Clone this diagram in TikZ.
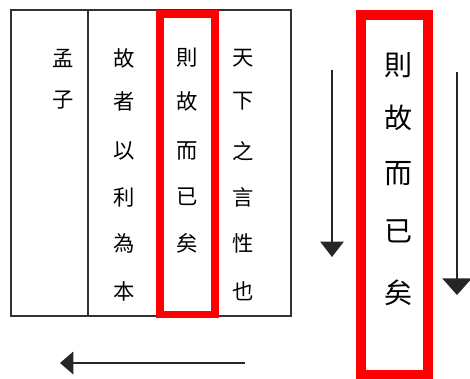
\documentclass[tikz,border=0pt]{standalone}
\usepackage{fontspec}
\newfontfamily\cjk{Noto Sans CJK TC}
\usetikzlibrary{arrows.meta}
\begin{document}
\begin{tikzpicture}[x=0.75pt,y=-0.75pt,
  tableline/.style={draw=black!80,line width=1.1pt},
  redframe/.style={draw=red,line width=5.3pt},
  bigframe/.style={draw=red,line width=7.5pt},
  ch/.style={inner sep=0pt,font=\cjk\fontsize{16pt}{16pt}\selectfont},
  bigch/.style={inner sep=0pt,font=\cjk\fontsize{21pt}{21pt}\selectfont},
  arr/.style={draw=black!85,line width=1.1pt}]
\useasboundingbox (0,0) rectangle (470,378);
% table
\coordinate (tl) at (11,10);
\coordinate (br) at (291,316);
\draw[tableline] (tl) rectangle (br);
\coordinate (dtop) at (88,10);
\coordinate (dbot) at (88,316);
\draw[tableline] (dtop) -- (dbot);
% red frame in table
\coordinate (r1a) at (160,14);
\coordinate (r1b) at (215,314.5);
\draw[redframe] (r1a) rectangle (r1b);
% column 1
\node[ch] (c1a) at (63,58) {孟};
\node[ch] (c1b) at (63,100) {子};
% column 2
\node[ch] (c2a) at (124,58) {故};
\node[ch] (c2b) at (124,101) {者};
\node[ch] (c2c) at (124,151) {以};
\node[ch] (c2d) at (124,197) {利};
\node[ch] (c2e) at (124,243) {為};
\node[ch] (c2f) at (124,291) {本};
% column 3
\node[ch] (c3a) at (187,58) {則};
\node[ch] (c3b) at (187,101) {故};
\node[ch] (c3c) at (187,151) {而};
\node[ch] (c3d) at (187,197) {已};
\node[ch] (c3e) at (187,243) {矣};
% column 4
\node[ch] (c4a) at (243,58) {天};
\node[ch] (c4b) at (243,101) {下};
\node[ch] (c4c) at (243,151) {之};
\node[ch] (c4d) at (243,197) {言};
\node[ch] (c4e) at (243,243) {性};
\node[ch] (c4f) at (243,291) {也};
% big red frame
\coordinate (r2a) at (361,15);
\coordinate (r2b) at (428,375);
\draw[bigframe] (r2a) rectangle (r2b);
\node[bigch] (b1) at (398,65) {則};
\node[bigch] (b2) at (398,118) {故};
\node[bigch] (b3) at (398,174) {而};
\node[bigch] (b4) at (398,231) {已};
\node[bigch] (b5) at (398,293) {矣};
% arrows
\coordinate (a1s) at (332,70);
\coordinate (a1e) at (332,257);
\draw[arr,-{Triangle[length=11.5pt,width=17.5pt]}] (a1s) -- (a1e);
\coordinate (a2s) at (457,72);
\coordinate (a2e) at (457,295);
\draw[arr,-{Triangle[length=12.5pt,width=22pt]}] (a2s) -- (a2e);
\coordinate (a3s) at (245,363);
\coordinate (a3e) at (60,363);
\draw[arr,-{Triangle[length=10pt,width=17pt]}] (a3s) -- (a3e);
\end{tikzpicture}
\end{document}
